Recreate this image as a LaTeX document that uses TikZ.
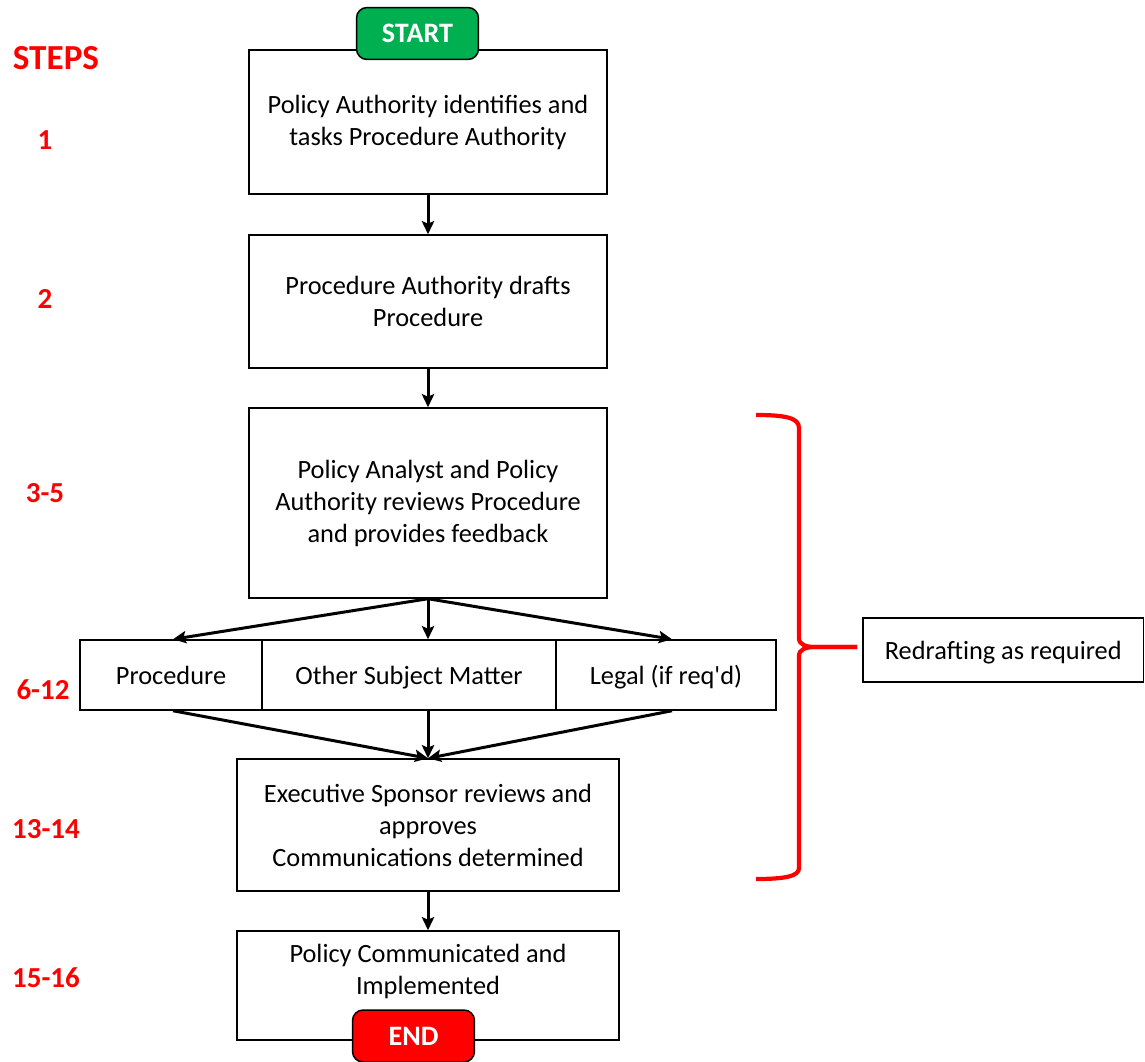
\documentclass[tikz,border=0pt]{standalone}
\usepackage{fontspec}
\setmainfont{Carlito}
\definecolor{stepred}{RGB}{255,0,0}
\definecolor{startgreen}{RGB}{0,176,80}
\usetikzlibrary{arrows.meta,positioning,calc}

\begin{document}
\begin{tikzpicture}[x=0.02cm, y=-0.02cm,
    box/.style={draw, line width=0.85pt, align=center, inner sep=0pt,
                font=\fontsize{15}{18.2}\selectfont},
    rowbox/.style={box, minimum height=1.4cm, text height=2.6ex, text depth=0.3ex},
    txt/.style={align=center, font=\fontsize{15}{18.2}\selectfont},
    pill/.style={draw, line width=0.85pt, rounded corners=6pt, text=white,
                 minimum width=2.44cm, minimum height=1.04cm, inner sep=0pt,
                 font=\fontsize{16}{19}\selectfont\bfseries},
    num/.style={text=stepred, font=\fontsize{16.5}{19}\selectfont\bfseries},
    arr/.style={-{Stealth[length=7.5pt,width=7pt,inset=1.5pt]}, line width=1.7pt},
    brace/.style={stepred, line width=2.4pt}
  ]
    \useasboundingbox (0,0) rectangle (1145,1061);

    % Step numbers
    \node[text=stepred, font=\fontsize{20}{24}\selectfont\bfseries] (steps) at (56,58) {STEPS};
    \node[num] (n1) at (45,140) {1};
    \node[num] (n2) at (45,299) {2};
    \node[num] (n3) at (45,493) {3-5};
    \node[num] (n4) at (43,690) {6-12};
    \node[num] (n5) at (46,829) {13-14};
    \node[num] (n6) at (46,978) {15-16};

    % Step 1
    \node[box, minimum width=7.16cm, minimum height=2.88cm] (identify) at (428,122)
      {Policy Authority identifies and\\tasks Procedure Authority};
    \node[pill, fill=startgreen] (start) at (417.5,33.5) {START};

    % Step 2
    \node[box, minimum width=7.16cm, minimum height=2.66cm] (draft) at (428,301.5)
      {Procedure Authority drafts\\Procedure};
    \draw[arr] (identify) -- (draft);

    % Steps 3-5
    \node[box, minimum width=7.16cm, minimum height=3.8cm] (analyst) at (428,503)
      {Policy Analyst and Policy\\Authority reviews Procedure\\and provides feedback};
    \draw[arr] (draft) -- (analyst);

    % Steps 6-12
    \node[rowbox, minimum width=3.64cm] (proc) at (171,675) {Procedure};
    \node[rowbox, minimum width=5.88cm] (other) at (409,675) {Other Subject Matter};
    \node[rowbox, minimum width=4.4cm] (legal) at (666,675) {Legal (if req\textquotesingle d)};
    \draw[arr] (analyst.south) -- ($(proc.north)+(2,0)$);
    \draw[arr] (analyst.south) -- (analyst.south |- other.north);
    \draw[arr] (analyst.south) -- ($(legal.north)+(6,0)$);

    % Steps 13-14
    \node[box, minimum width=7.64cm, minimum height=2.64cm] (sponsor) at (428,825)
      {Executive Sponsor reviews and\\approves\\Communications determined};
    \draw[arr] ($(proc.south)+(2,0)$) -- (sponsor.north);
    \draw[arr] (analyst.south |- other.south) -- (sponsor.north);
    \draw[arr] ($(legal.south)+(6,0)$) -- (sponsor.north);

    % Steps 15-16
    \node[box, minimum width=7.64cm, minimum height=2.18cm] (implement) at (428,985.5) {};
    \node[txt] (impltext) at (428,971) {Policy Communicated and\\Implemented};
    \draw[arr] (sponsor) -- (implement);
    \node[pill, fill=stepred] (end) at (413.5,1036) {END};

    % Redrafting loop
    \draw[brace] (756,415) .. controls (786,415) and (799,418) .. (799,428)
      -- (799,638) .. controls (799,645) and (806,647) .. (816,647) -- (857,647);
    \draw[brace] (857,647) -- (816,647) .. controls (806,647) and (799,649) .. (799,656)
      -- (799,868) .. controls (799,876) and (786,879) .. (756,879);
    \coordinate (bracetip) at (857,650);
    \node[box, minimum width=5.62cm, minimum height=1.28cm, text height=2.6ex, text depth=0.3ex,
          right=0.1cm of bracetip] (redraft) {Redrafting as required};
  \end{tikzpicture}
\end{document}
